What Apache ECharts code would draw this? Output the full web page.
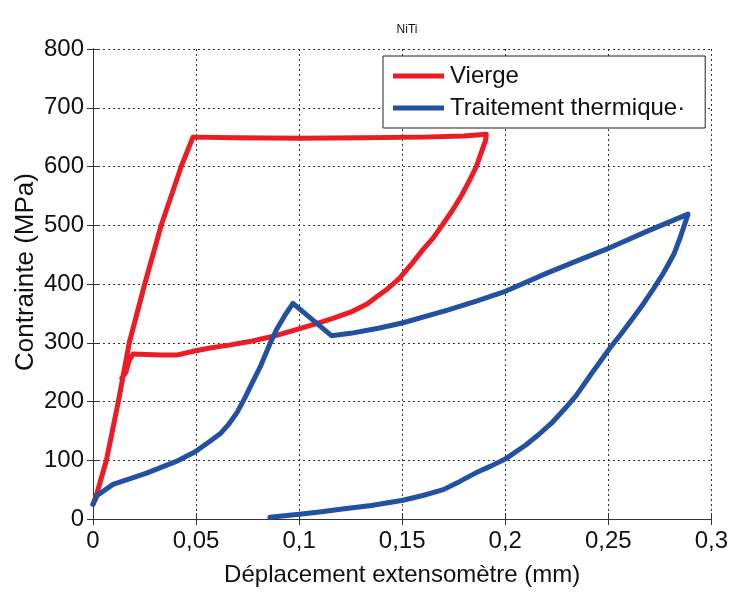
<!DOCTYPE html>
<html>
<head>
<meta charset="utf-8">
<script src="https://cdn.jsdelivr.net/npm/echarts@6/dist/echarts.min.js"></script>
<style>
html,body{margin:0;padding:0;background:#fff;}
#chart{width:731px;height:592px;}
</style>
</head>
<body>
<div id="chart"></div>
<script>
// ---- Data ----
const titleText = 'NiTi';
const xAxisName = 'Déplacement extensomètre (mm)';
const yAxisName = 'Contrainte (MPa)';
const xTicks = [0, 0.05, 0.1, 0.15, 0.2, 0.25, 0.3];
const xTickLabels = ['0', '0,05', '0,1', '0,15', '0,2', '0,25', '0,3'];
const yTicks = [0, 100, 200, 300, 400, 500, 600, 700, 800];

const seriesNames = ['Vierge', 'Traitement thermique·'];

// Vierge: loading, plateau, unloading
const redX = [0, 0.0016, 0.0065, 0.0123, 0.0176, 0.0251, 0.0331, 0.0428, 0.0485,
  0.07, 0.10, 0.13, 0.16, 0.18, 0.1908,
  0.1905, 0.1885, 0.186, 0.1825, 0.179, 0.1745, 0.1696, 0.165, 0.160, 0.155, 0.1488, 0.143, 0.1375, 0.133, 0.125, 0.116, 0.108, 0.1003,
  0.0874, 0.076, 0.066, 0.0567, 0.048, 0.0405, 0.033, 0.026, 0.0195, 0.0175, 0.016, 0.014];
const redY = [25, 40, 100, 200, 300, 400, 500, 600, 650,
  649, 648, 649, 650, 652, 655,
  645, 625, 600, 575, 552, 526, 501, 478, 458, 436, 410, 392, 378, 366, 352, 341, 332, 324,
  311, 302, 296, 291, 285, 279, 279, 280, 281, 270, 250, 240];

// Traitement thermique
const blueX = [0, 0.002, 0.0097, 0.026, 0.0404, 0.0494, 0.0566, 0.062, 0.066, 0.070, 0.0735, 0.077, 0.081, 0.0858, 0.089, 0.093, 0.097,
  0.1157, 0.125, 0.139, 0.1505, 0.1716, 0.186, 0.2004, 0.2205, 0.236, 0.251, 0.269, 0.2887,
  0.285, 0.282, 0.277, 0.272, 0.267, 0.262, 0.256, 0.251, 0.242, 0.2344, 0.229, 0.223, 0.216, 0.210, 0.2, 0.193, 0.186, 0.178, 0.170, 0.160, 0.1504, 0.135, 0.121, 0.11, 0.1, 0.0858];
const blueY = [25, 40, 59, 78, 98, 114, 132, 146, 162, 182, 205, 230, 258, 298, 322, 346, 367,
  312, 316, 325, 334, 355, 371, 388, 419, 441, 462, 490, 519,
  480, 452, 420, 392, 366, 342, 314, 292, 248, 210, 188, 165, 143, 126, 102, 90, 79, 64, 50, 40, 32, 23, 17, 12, 8, 3];

// ---- Build ----
function pairs(xs, ys) { return xs.map((x, i) => [x, ys[i]]); }
const font = 'Liberation Sans, Arial, sans-serif';
const axisColor = '#333';

const chart = echarts.init(document.getElementById('chart'), null, {renderer: 'canvas'});
const xLabelFmt = v => {
  const i = xTicks.findIndex(t => Math.abs(t - v) < 1e-9);
  return i >= 0 ? xTickLabels[i] : '';
};
const common = {
  axisLine: {show: true, lineStyle: {color: axisColor, width: 1}},
  axisTick: {show: true, inside: true, length: 6, lineStyle: {color: axisColor}},
};
chart.setOption({
  animation: false,
  backgroundColor: '#fff',
  title: {
    text: titleText, left: 402, top: 19, textAlign: 'center',
    textStyle: {fontFamily: font, fontSize: 12, fontWeight: 'normal', color: '#111'}
  },
  graphic: [{
    type: 'text', x: 26, y: 272, rotation: Math.PI / 2,
    style: {text: yAxisName, fontFamily: font, fontSize: 26, fill: '#111', align: 'center', verticalAlign: 'middle'}
  }],
  grid: {left: 93, right: 19, top: 49, bottom: 67, containLabel: false},
  legend: {
    orient: 'vertical', left: 383, top: 56, width: 324,
    padding: [8, 20, 8, 10], itemGap: 8,
    backgroundColor: '#fff', borderColor: '#222', borderWidth: 1,
    itemWidth: 51, itemHeight: 5, icon: 'rect',
    textStyle: {fontFamily: font, fontSize: 24, color: '#111', padding: [0, 0, 0, 1]},
    data: seriesNames
  },
  xAxis: [{
    type: 'value', min: 0, max: 0.3, interval: 0.05,
    name: xAxisName, nameLocation: 'middle', nameGap: 44,
    nameTextStyle: {fontFamily: font, fontSize: 24, color: '#111'},
    ...common,
    axisLabel: {fontFamily: font, fontSize: 24, color: '#111', margin: 10, formatter: xLabelFmt},
    splitLine: {show: true, lineStyle: {color: '#333', type: [2, 3], width: 1}}
  }, {
    type: 'value', min: 0, max: 0.3, interval: 0.05, position: 'top',
    ...common, axisLabel: {show: false}, splitLine: {show: false}
  }],
  yAxis: [{
    type: 'value', min: 0, max: 800, interval: 100,
    ...common,
    axisLabel: {fontFamily: font, fontSize: 24, color: '#111', margin: 9},
    splitLine: {show: true, lineStyle: {color: '#333', type: [2, 3], width: 1}}
  }, {
    type: 'value', min: 0, max: 800, interval: 100, position: 'right',
    ...common, axisLabel: {show: false}, splitLine: {show: false}
  }],
  series: [{
    name: seriesNames[0], type: 'line', data: pairs(redX, redY),
    showSymbol: false, symbol: 'none', smooth: false,
    lineStyle: {color: '#ed1c24', width: 5, cap: 'round', join: 'round'},
    itemStyle: {color: '#ed1c24'}
  }, {
    name: seriesNames[1], type: 'line', data: pairs(blueX, blueY),
    showSymbol: false, symbol: 'none', smooth: false,
    lineStyle: {color: '#2251a3', width: 5, cap: 'round', join: 'round'},
    itemStyle: {color: '#2251a3'}
  }]
});
</script>
</body>
</html>
